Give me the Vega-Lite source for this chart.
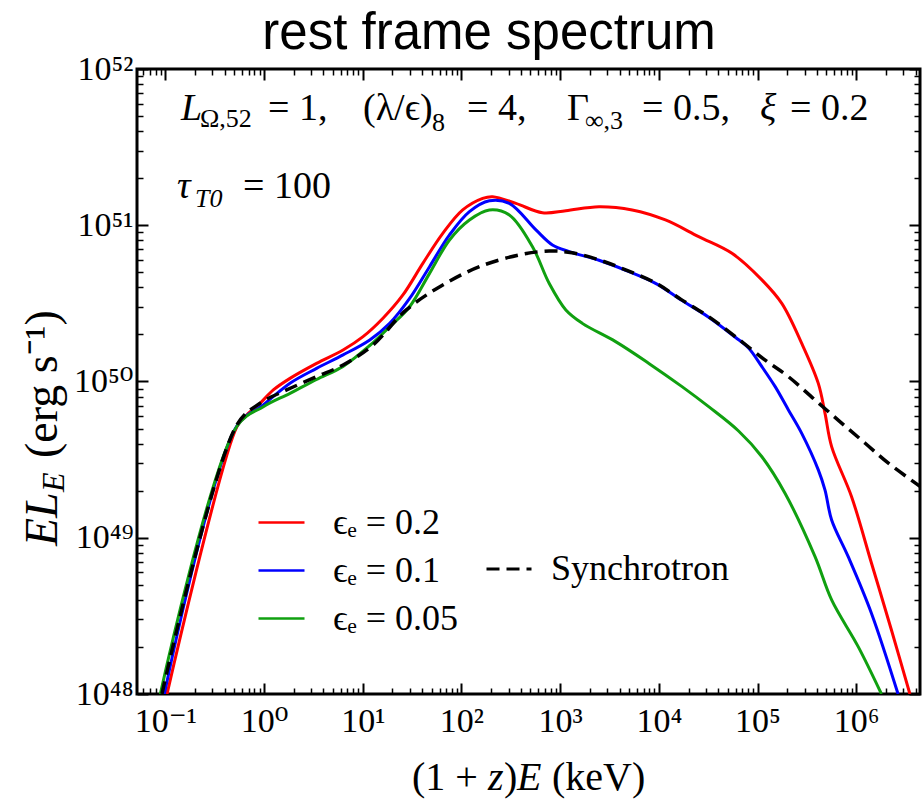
{
  "$schema": "https://vega.github.io/schema/vega-lite/v6.json",
  "width": 783,
  "height": 625,
  "autosize": {"type": "none"},
  "padding": {"left": 137, "top": 69, "right": 4, "bottom": 114},
  "background": "white",
  "config": {
    "view": {"stroke": "black", "strokeWidth": 3},
    "axis": {"grid": false, "domain": false, "tickColor": "black", "labelColor": "black", "labelFont": "Liberation Serif, DejaVu Serif", "labelFontSize": 34},
    "text": {"font": "Liberation Serif", "color": "black", "align": "left", "baseline": "alphabetic"}
  },
  "datasets": {
    "curves": [
      {"eps": 0.2, "E": 0.104, "L": 1.0e48}, {"eps": 0.2, "E": 0.530, "L": 5.12e49}, {"eps": 0.2, "E": 0.668, "L": 6.11e49},
      {"eps": 0.2, "E": 0.912, "L": 7.26e49}, {"eps": 0.2, "E": 1.242, "L": 8.83e49}, {"eps": 0.2, "E": 1.832, "L": 1.047e50},
      {"eps": 0.2, "E": 3.404, "L": 1.306e50}, {"eps": 0.2, "E": 6.32, "L": 1.59e50}, {"eps": 0.2, "E": 10.07, "L": 1.936e50},
      {"eps": 0.2, "E": 16.03, "L": 2.54e50}, {"eps": 0.2, "E": 25.53, "L": 3.58e50}, {"eps": 0.2, "E": 40.64, "L": 5.70e50},
      {"eps": 0.2, "E": 64.7, "L": 8.87e50}, {"eps": 0.2, "E": 103.0, "L": 1.253e51}, {"eps": 0.2, "E": 164.1, "L": 1.486e51},
      {"eps": 0.2, "E": 207.0, "L": 1.524e51}, {"eps": 0.2, "E": 356.4, "L": 1.380e51}, {"eps": 0.2, "E": 662.2, "L": 1.202e51},
      {"eps": 0.2, "E": 1143, "L": 1.239e51}, {"eps": 0.2, "E": 2477, "L": 1.315e51}, {"eps": 0.2, "E": 5370, "L": 1.253e51},
      {"eps": 0.2, "E": 11670, "L": 1.081e51}, {"eps": 0.2, "E": 25350, "L": 8.45e50}, {"eps": 0.2, "E": 55080, "L": 6.61e50},
      {"eps": 0.2, "E": 110700, "L": 4.47e50}, {"eps": 0.2, "E": 176200, "L": 3.16e50}, {"eps": 0.2, "E": 280500, "L": 1.754e50},
      {"eps": 0.2, "E": 413000, "L": 9.73e49}, {"eps": 0.2, "E": 483100, "L": 6.25e49}, {"eps": 0.2, "E": 563600, "L": 3.83e49},
      {"eps": 0.2, "E": 897500, "L": 1.83e49}, {"eps": 0.2, "E": 1429000, "L": 6.87e48}, {"eps": 0.2, "E": 2275000, "L": 2.57e48},
      {"eps": 0.2, "E": 3500000, "L": 1.0e48},
      {"eps": 0.1, "E": 0.0977, "L": 1.0e48}, {"eps": 0.1, "E": 0.530, "L": 5.19e49}, {"eps": 0.1, "E": 0.984, "L": 7.08e49},
      {"eps": 0.1, "E": 1.832, "L": 9.75e49}, {"eps": 0.1, "E": 3.404, "L": 1.213e50}, {"eps": 0.1, "E": 6.32, "L": 1.479e50},
      {"eps": 0.1, "E": 11.78, "L": 1.845e50}, {"eps": 0.1, "E": 18.75, "L": 2.355e50}, {"eps": 0.1, "E": 29.85, "L": 3.40e50},
      {"eps": 0.1, "E": 47.53, "L": 5.43e50}, {"eps": 0.1, "E": 75.68, "L": 8.67e50}, {"eps": 0.1, "E": 120.5, "L": 1.222e51},
      {"eps": 0.1, "E": 191.9, "L": 1.435e51}, {"eps": 0.1, "E": 305.5, "L": 1.380e51}, {"eps": 0.1, "E": 568.9, "L": 9.33e50},
      {"eps": 0.1, "E": 835.6, "L": 7.48e50}, {"eps": 0.1, "E": 1233, "L": 6.78e50}, {"eps": 0.1, "E": 2477, "L": 5.97e50},
      {"eps": 0.1, "E": 4613, "L": 5.15e50}, {"eps": 0.1, "E": 9268, "L": 4.25e50}, {"eps": 0.1, "E": 17060, "L": 3.31e50},
      {"eps": 0.1, "E": 31990, "L": 2.58e50}, {"eps": 0.1, "E": 59570, "L": 1.92e50}, {"eps": 0.1, "E": 81100, "L": 1.64e50},
      {"eps": 0.1, "E": 110700, "L": 1.245e50}, {"eps": 0.1, "E": 151000, "L": 9.27e49}, {"eps": 0.1, "E": 205600, "L": 6.58e49},
      {"eps": 0.1, "E": 280500, "L": 4.66e49}, {"eps": 0.1, "E": 413000, "L": 2.72e49}, {"eps": 0.1, "E": 483100, "L": 2.02e49},
      {"eps": 0.1, "E": 563600, "L": 1.30e49}, {"eps": 0.1, "E": 829800, "L": 7.57e48}, {"eps": 0.1, "E": 1429000, "L": 3.28e48},
      {"eps": 0.1, "E": 2655000, "L": 1.0e48},
      {"eps": 0.05, "E": 0.0889, "L": 1.0e48}, {"eps": 0.05, "E": 0.533, "L": 5.19e49}, {"eps": 0.05, "E": 0.984, "L": 6.9e49},
      {"eps": 0.05, "E": 1.832, "L": 8.4e49}, {"eps": 0.05, "E": 3.404, "L": 1.03e50}, {"eps": 0.05, "E": 6.32, "L": 1.25e50},
      {"eps": 0.05, "E": 11.78, "L": 1.70e50}, {"eps": 0.05, "E": 18.75, "L": 2.24e50}, {"eps": 0.05, "E": 29.85, "L": 3.01e50},
      {"eps": 0.05, "E": 47.53, "L": 4.92e50}, {"eps": 0.05, "E": 75.68, "L": 8.05e50}, {"eps": 0.05, "E": 120.5, "L": 1.081e51},
      {"eps": 0.05, "E": 191.9, "L": 1.253e51}, {"eps": 0.05, "E": 305.5, "L": 1.164e51}, {"eps": 0.05, "E": 524.8, "L": 7.29e50},
      {"eps": 0.05, "E": 774, "L": 4.25e50}, {"eps": 0.05, "E": 1143, "L": 2.87e50}, {"eps": 0.05, "E": 1679, "L": 2.355e50},
      {"eps": 0.05, "E": 3648, "L": 1.80e50}, {"eps": 0.05, "E": 7925, "L": 1.306e50}, {"eps": 0.05, "E": 17180, "L": 9.27e49},
      {"eps": 0.05, "E": 31990, "L": 6.90e49}, {"eps": 0.05, "E": 64270, "L": 4.82e49}, {"eps": 0.05, "E": 110700, "L": 3.30e49},
      {"eps": 0.05, "E": 190500, "L": 1.92e49}, {"eps": 0.05, "E": 382800, "L": 7.57e48}, {"eps": 0.05, "E": 563600, "L": 4.00e48},
      {"eps": 0.05, "E": 1047000, "L": 2.01e48}, {"eps": 0.05, "E": 1803000, "L": 1.0e48}
    ],
    "synchrotron": [
      {"curve": "Synchrotron", "E": 0.0923, "L": 1.0e48}, {"curve": "Synchrotron", "E": 0.530, "L": 5.27e49},
      {"curve": "Synchrotron", "E": 0.912, "L": 7.26e49}, {"curve": "Synchrotron", "E": 1.694, "L": 8.83e49},
      {"curve": "Synchrotron", "E": 3.404, "L": 1.074e50}, {"curve": "Synchrotron", "E": 6.32, "L": 1.276e50},
      {"curve": "Synchrotron", "E": 12.71, "L": 1.714e50}, {"curve": "Synchrotron", "E": 27.6, "L": 2.871e50},
      {"curve": "Synchrotron", "E": 64.7, "L": 4.15e50}, {"curve": "Synchrotron", "E": 152.1, "L": 5.43e50},
      {"curve": "Synchrotron", "E": 385.5, "L": 6.46e50}, {"curve": "Synchrotron", "E": 774, "L": 6.84e50},
      {"curve": "Synchrotron", "E": 1321, "L": 6.67e50}, {"curve": "Synchrotron", "E": 2477, "L": 6.00e50},
      {"curve": "Synchrotron", "E": 4613, "L": 5.18e50}, {"curve": "Synchrotron", "E": 9268, "L": 4.27e50},
      {"curve": "Synchrotron", "E": 17060, "L": 3.33e50}, {"curve": "Synchrotron", "E": 31990, "L": 2.60e50},
      {"curve": "Synchrotron", "E": 59570, "L": 1.94e50}, {"curve": "Synchrotron", "E": 119700, "L": 1.37e50},
      {"curve": "Synchrotron", "E": 205600, "L": 1.074e50}, {"curve": "Synchrotron", "E": 382800, "L": 7.62e49},
      {"curve": "Synchrotron", "E": 711200, "L": 5.42e49}, {"curve": "Synchrotron", "E": 1225000, "L": 4.04e49},
      {"curve": "Synchrotron", "E": 2104000, "L": 3.01e49}, {"curve": "Synchrotron", "E": 4500000, "L": 2.12e49}
    ],
    "one": [{}]
  },
  "resolve": {"scale": {"x": "shared", "y": "shared"}, "axis": {"x": "independent", "y": "independent"}},
  "layer": [
    {
      "data": {"name": "curves"},
      "mark": {"type": "line", "strokeWidth": 3, "interpolate": "catmull-rom", "clip": true},
      "encoding": {
        "x": {"field": "E", "type": "quantitative", "scale": {"type": "log", "domain": [0.0516, 4430000], "nice": false},
          "axis": {"orient": "bottom", "title": null, "values": [0.1, 1, 10, 100, 1000, 10000, 100000, 1000000], "tickSize": -11, "tickWidth": 2,
            "labelExpr": "'10' + ['⁻¹','⁰','¹','²','³','⁴','⁵','⁶'][round(log(datum.value)/LN10) + 1]",
            "labelPadding": 21, "labelBaseline": "top", "labelFlush": false, "labelOverlap": false}},
        "y": {"field": "L", "type": "quantitative", "scale": {"type": "log", "domain": [1e48, 1e52], "nice": false},
          "axis": {"orient": "left", "title": null, "values": [1e48, 1e49, 1e50, 1e51, 1e52], "tickSize": -11, "tickWidth": 2,
            "labelExpr": "'10' + ['⁴⁸','⁴⁹','⁵⁰','⁵¹','⁵²'][round(log(datum.value)/LN10) - 48]",
            "labelPadding": 15, "labelFlush": false, "labelOverlap": false}},
        "color": {"field": "eps", "type": "nominal",
          "scale": {"domain": [0.2, 0.1, 0.05], "range": ["#ff0000", "#0000ff", "#10a010"]},
          "legend": {"orient": "none", "legendX": 120, "legendY": 429, "title": null, "padding": 0,
            "symbolType": "stroke", "symbolSize": 2116, "symbolStrokeWidth": 2.5,
            "labelFont": "Liberation Serif", "labelFontSize": 36, "labelColor": "black", "labelOffset": 27, "rowPadding": 5, "labelLimit": 400,
            "labelExpr": "'ϵₑ = ' + datum.label"}}
      }
    },
    {
      "data": {"name": "synchrotron"},
      "mark": {"type": "line", "strokeWidth": 3.5, "color": "black", "interpolate": "catmull-rom", "clip": true},
      "encoding": {
        "x": {"field": "E", "type": "quantitative", "scale": {"type": "log", "domain": [0.0516, 4430000], "nice": false},
          "axis": {"orient": "bottom", "title": null, "labels": false, "tickSize": -6, "tickWidth": 1.5,
            "values": [0.06,0.07,0.08,0.09,0.2,0.3,0.4,0.5,0.6,0.7,0.8,0.9,2,3,4,5,6,7,8,9,20,30,40,50,60,70,80,90,200,300,400,500,600,700,800,900,2000,3000,4000,5000,6000,7000,8000,9000,20000,30000,40000,50000,60000,70000,80000,90000,200000,300000,400000,500000,600000,700000,800000,900000,2000000,3000000,4000000]}},
        "y": {"field": "L", "type": "quantitative", "scale": {"type": "log", "domain": [1e48, 1e52], "nice": false},
          "axis": {"orient": "left", "title": null, "labels": false, "tickSize": -6, "tickWidth": 1.5,
            "values": [2e48,3e48,4e48,5e48,6e48,7e48,8e48,9e48,2e49,3e49,4e49,5e49,6e49,7e49,8e49,9e49,2e50,3e50,4e50,5e50,6e50,7e50,8e50,9e50,2e51,3e51,4e51,5e51,6e51,7e51,8e51,9e51]}},
        "strokeDash": {"field": "curve", "type": "nominal", "scale": {"domain": ["Synchrotron"], "range": [[13, 7]]},
          "legend": {"orient": "none", "legendX": 348, "legendY": 476, "title": null, "padding": 0,
            "symbolType": "stroke", "symbolSize": 2025, "symbolStrokeWidth": 3, "symbolStrokeColor": "black",
            "labelFont": "Liberation Serif", "labelFontSize": 36, "labelColor": "black", "labelOffset": 18, "labelLimit": 400}}
      }
    },
    {
      "data": {"name": "one"},
      "mark": {"type": "text", "text": "τ", "fontSize": 38, "fontStyle": "italic"},
      "encoding": {
        "x": {"datum": 0.1312, "type": "quantitative", "scale": {"type": "log", "domain": [0.0516, 4430000], "nice": false},
          "axis": {"orient": "top", "title": null, "labels": false, "tickSize": -11, "tickWidth": 2, "values": [0.1, 1, 10, 100, 1000, 10000, 100000, 1000000]}},
        "y": {"datum": 1.494e51, "type": "quantitative", "scale": {"type": "log", "domain": [1e48, 1e52], "nice": false},
          "axis": {"orient": "right", "title": null, "labels": false, "tickSize": -11, "tickWidth": 2, "values": [1e48, 1e49, 1e50, 1e51, 1e52]}}
      }
    },
    {
      "data": {"name": "one"},
      "mark": {"type": "text", "text": "T0", "fontSize": 26, "fontStyle": "italic"},
      "encoding": {
        "x": {"datum": 0.1996, "type": "quantitative", "scale": {"type": "log", "domain": [0.0516, 4430000], "nice": false},
          "axis": {"orient": "top", "title": null, "labels": false, "tickSize": -6, "tickWidth": 1.5,
            "values": [0.06,0.07,0.08,0.09,0.2,0.3,0.4,0.5,0.6,0.7,0.8,0.9,2,3,4,5,6,7,8,9,20,30,40,50,60,70,80,90,200,300,400,500,600,700,800,900,2000,3000,4000,5000,6000,7000,8000,9000,20000,30000,40000,50000,60000,70000,80000,90000,200000,300000,400000,500000,600000,700000,800000,900000,2000000,3000000,4000000]}},
        "y": {"datum": 1.309e51, "type": "quantitative", "scale": {"type": "log", "domain": [1e48, 1e52], "nice": false},
          "axis": {"orient": "right", "title": null, "labels": false, "tickSize": -6, "tickWidth": 1.5,
            "values": [2e48,3e48,4e48,5e48,6e48,7e48,8e48,9e48,2e49,3e49,4e49,5e49,6e49,7e49,8e49,9e49,2e50,3e50,4e50,5e50,6e50,7e50,8e50,9e50,2e51,3e51,4e51,5e51,6e51,7e51,8e51,9e51]}}
      }
    },
    {"data": {"name": "one"}, "mark": {"type": "text", "text": "rest frame spectrum", "font": "Liberation Sans", "fontSize": 51, "align": "center"},
     "encoding": {"x": {"datum": 190.3, "type": "quantitative", "scale": {"type": "log"}, "axis": null}, "y": {"datum": 1.343e52, "type": "quantitative", "scale": {"type": "log"}, "axis": null}}},
    {"data": {"name": "one"}, "mark": {"type": "text", "text": "= 100", "fontSize": 38},
     "encoding": {"x": {"datum": 0.6117, "type": "quantitative", "scale": {"type": "log"}, "axis": null}, "y": {"datum": 1.494e51, "type": "quantitative", "scale": {"type": "log"}, "axis": null}}},
    {"data": {"name": "one"}, "mark": {"type": "text", "text": "L", "fontSize": 38, "fontStyle": "italic"},
     "encoding": {"x": {"datum": 0.144, "type": "quantitative", "scale": {"type": "log"}, "axis": null}, "y": {"datum": 4.716e51, "type": "quantitative", "scale": {"type": "log"}, "axis": null}}},
    {"data": {"name": "one"}, "mark": {"type": "text", "text": "Ω,52", "fontSize": 26},
     "encoding": {"x": {"datum": 0.2244, "type": "quantitative", "scale": {"type": "log"}, "axis": null}, "y": {"datum": 4.254e51, "type": "quantitative", "scale": {"type": "log"}, "axis": null}}},
    {"data": {"name": "one"}, "mark": {"type": "text", "text": "= 1,", "fontSize": 38},
     "encoding": {"x": {"datum": 1.096, "type": "quantitative", "scale": {"type": "log"}, "axis": null}, "y": {"datum": 4.716e51, "type": "quantitative", "scale": {"type": "log"}, "axis": null}}},
    {"data": {"name": "one"}, "mark": {"type": "text", "text": "(λ/ϵ)", "fontSize": 38},
     "encoding": {"x": {"datum": 10.06, "type": "quantitative", "scale": {"type": "log"}, "axis": null}, "y": {"datum": 4.716e51, "type": "quantitative", "scale": {"type": "log"}, "axis": null}}},
    {"data": {"name": "one"}, "mark": {"type": "text", "text": "8", "fontSize": 26},
     "encoding": {"x": {"datum": 50.33, "type": "quantitative", "scale": {"type": "log"}, "axis": null}, "y": {"datum": 4.011e51, "type": "quantitative", "scale": {"type": "log"}, "axis": null}}},
    {"data": {"name": "one"}, "mark": {"type": "text", "text": "= 4,", "fontSize": 38},
     "encoding": {"x": {"datum": 113.9, "type": "quantitative", "scale": {"type": "log"}, "axis": null}, "y": {"datum": 4.716e51, "type": "quantitative", "scale": {"type": "log"}, "axis": null}}},
    {"data": {"name": "one"}, "mark": {"type": "text", "text": "Γ", "fontSize": 38},
     "encoding": {"x": {"datum": 1174, "type": "quantitative", "scale": {"type": "log"}, "axis": null}, "y": {"datum": 4.716e51, "type": "quantitative", "scale": {"type": "log"}, "axis": null}}},
    {"data": {"name": "one"}, "mark": {"type": "text", "text": "∞,3", "fontSize": 26},
     "encoding": {"x": {"datum": 1787, "type": "quantitative", "scale": {"type": "log"}, "axis": null}, "y": {"datum": 4.13e51, "type": "quantitative", "scale": {"type": "log"}, "axis": null}}},
    {"data": {"name": "one"}, "mark": {"type": "text", "text": "= 0.5,", "fontSize": 38},
     "encoding": {"x": {"datum": 6757, "type": "quantitative", "scale": {"type": "log"}, "axis": null}, "y": {"datum": 4.716e51, "type": "quantitative", "scale": {"type": "log"}, "axis": null}}},
    {"data": {"name": "one"}, "mark": {"type": "text", "text": "ξ", "fontSize": 38, "fontStyle": "italic"},
     "encoding": {"x": {"datum": 106000, "type": "quantitative", "scale": {"type": "log"}, "axis": null}, "y": {"datum": 4.716e51, "type": "quantitative", "scale": {"type": "log"}, "axis": null}}},
    {"data": {"name": "one"}, "mark": {"type": "text", "text": "= 0.2", "fontSize": 38},
     "encoding": {"x": {"datum": 213500, "type": "quantitative", "scale": {"type": "log"}, "axis": null}, "y": {"datum": 4.716e51, "type": "quantitative", "scale": {"type": "log"}, "axis": null}}},
    {"data": {"name": "one"}, "mark": {"type": "text", "text": "EL", "fontSize": 46, "fontStyle": "italic", "angle": 270},
     "encoding": {"x": {"datum": 0.00798, "type": "quantitative", "scale": {"type": "log"}, "axis": null}, "y": {"datum": 8.85e48, "type": "quantitative", "scale": {"type": "log"}, "axis": null}}},
    {"data": {"name": "one"}, "mark": {"type": "text", "text": "E", "fontSize": 32, "fontStyle": "italic", "angle": 270},
     "encoding": {"x": {"datum": 0.009395, "type": "quantitative", "scale": {"type": "log"}, "axis": null}, "y": {"datum": 1.963e49, "type": "quantitative", "scale": {"type": "log"}, "axis": null}}},
    {"data": {"name": "one"}, "mark": {"type": "text", "text": "(erg s⁻¹)", "fontSize": 46, "angle": 270},
     "encoding": {"x": {"datum": 0.00798, "type": "quantitative", "scale": {"type": "log"}, "axis": null}, "y": {"datum": 3.238e49, "type": "quantitative", "scale": {"type": "log"}, "axis": null}}},
    {"data": {"name": "one"}, "mark": {"type": "text", "text": "(1 + ", "fontSize": 40},
     "encoding": {"x": {"datum": 31.56, "type": "quantitative", "scale": {"type": "log"}, "axis": null}, "y": {"datum": 2.43e47, "type": "quantitative", "scale": {"type": "log"}, "axis": null}}},
    {"data": {"name": "one"}, "mark": {"type": "text", "text": "z", "fontSize": 40, "fontStyle": "italic"},
     "encoding": {"x": {"datum": 185.9, "type": "quantitative", "scale": {"type": "log"}, "axis": null}, "y": {"datum": 2.43e47, "type": "quantitative", "scale": {"type": "log"}, "axis": null}}},
    {"data": {"name": "one"}, "mark": {"type": "text", "text": ")", "fontSize": 40},
     "encoding": {"x": {"datum": 270.0, "type": "quantitative", "scale": {"type": "log"}, "axis": null}, "y": {"datum": 2.43e47, "type": "quantitative", "scale": {"type": "log"}, "axis": null}}},
    {"data": {"name": "one"}, "mark": {"type": "text", "text": "E", "fontSize": 40, "fontStyle": "italic"},
     "encoding": {"x": {"datum": 365.6, "type": "quantitative", "scale": {"type": "log"}, "axis": null}, "y": {"datum": 2.43e47, "type": "quantitative", "scale": {"type": "log"}, "axis": null}}},
    {"data": {"name": "one"}, "mark": {"type": "text", "text": "(keV)", "fontSize": 40},
     "encoding": {"x": {"datum": 827.2, "type": "quantitative", "scale": {"type": "log"}, "axis": null}, "y": {"datum": 2.43e47, "type": "quantitative", "scale": {"type": "log"}, "axis": null}}}
  ]
}
